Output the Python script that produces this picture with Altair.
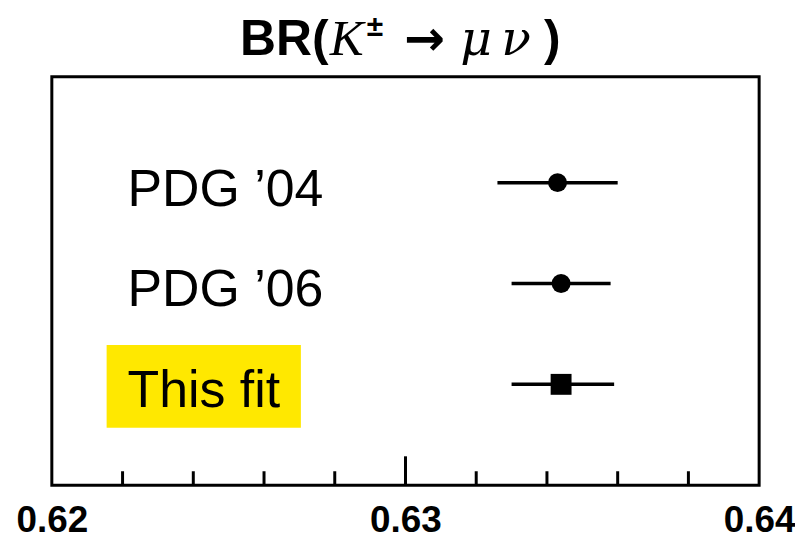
import altair as alt
import pandas as pd

# ---- data ----
labels = ["PDG \u201904", "PDG \u201906", "This fit"]
row_pos = [3, 2, 1]
br_value = [0.6343, 0.6344, 0.6344]
br_low = [0.6326, 0.6330, 0.6330]
br_high = [0.6360, 0.6358, 0.6359]
marker = ["circle", "circle", "square"]
highlight = [False, False, True]

minor_ticks = [0.622, 0.624, 0.626, 0.628, 0.632, 0.634, 0.636, 0.638]
major_ticks = [0.63]
tick_labels = [0.62, 0.63, 0.64]

df = pd.DataFrame({
    "label": labels, "pos": row_pos, "value": br_value,
    "lo": br_low, "hi": br_high, "marker": marker, "hl": highlight,
})

W, H = 710, 410
xscale = alt.Scale(domain=[0.62, 0.64], nice=False, zero=False)
yscale = alt.Scale(domain=[0, 4.05], nice=False, zero=False)

base = alt.Chart(df)

xaxis = alt.Axis(values=tick_labels, format=".2f", ticks=False, domain=False,
                 grid=False, title=None, labelFontSize=37, labelFontWeight="bold",
                 labelFont="Liberation Sans", labelColor="black", labelPadding=46,
                 labelBaseline="alphabetic", labelFlush=False)

band = base.transform_filter("datum.hl").transform_calculate(
    y1="datum.pos - 0.43", y2="datum.pos + 0.39"
).mark_rect(color="#FFE800").encode(
    x=alt.value(55), x2=alt.value(250),
    y=alt.Y("y1:Q", scale=yscale, axis=None), y2="y2:Q",
)

bars = base.mark_rule(color="black", strokeWidth=3.5).encode(
    x=alt.X("lo:Q", scale=xscale, axis=xaxis), x2="hi:Q",
    y=alt.Y("pos:Q", scale=yscale, axis=None),
)

circles = base.transform_filter("datum.marker == 'circle'").mark_point(
    shape="circle", filled=True, color="black", size=360, opacity=1
).encode(x=alt.X("value:Q", scale=xscale), y=alt.Y("pos:Q", scale=yscale))

squares = base.transform_filter("datum.marker == 'square'").mark_point(
    shape="square", filled=True, color="black", size=440, opacity=1
).encode(x=alt.X("value:Q", scale=xscale), y=alt.Y("pos:Q", scale=yscale))

names = base.mark_text(align="left", baseline="alphabetic", dy=23, fontSize=52,
                       font="Liberation Sans", color="black").encode(
    x=alt.value(76), y=alt.Y("pos:Q", scale=yscale), text="label:N",
)

minor = alt.Chart(pd.DataFrame({"t": minor_ticks})).mark_rule(
    color="black", strokeWidth=3).encode(
    x=alt.X("t:Q", scale=xscale), y=alt.value(H), y2=alt.value(H - 14))
major = alt.Chart(pd.DataFrame({"t": major_ticks})).mark_rule(
    color="black", strokeWidth=3).encode(
    x=alt.X("t:Q", scale=xscale), y=alt.value(H), y2=alt.value(H - 29))

def piece(txt, x, y, size, font, weight="normal", style="normal", baseline="alphabetic", align="left"):
    return alt.Chart(pd.DataFrame({"t": [txt]})).mark_text(
        align=align, baseline=baseline, fontSize=size, font=font,
        fontWeight=weight, fontStyle=style, color="black",
    ).encode(text="t:N", x=alt.value(x), y=alt.value(y))

title_layers = [
    piece("BR(", 189, -22, 50, "Liberation Sans", weight="bold"),
    piece("K", 279, -22, 51, "Liberation Serif", style="italic"),
    piece("\u00b1", 316, -41, 30, "Liberation Sans", weight="bold"),
    piece("\u2192", 374, -22, 49, "DejaVu Sans", weight="bold", align="center"),
    piece("\u03bc", 426, -22, 49, "DejaVu Serif", style="italic", align="center"),
    piece("\u03bd", 466, -22, 49, "DejaVu Serif", style="italic", align="center"),
    piece(")", 494, -22, 50, "Liberation Sans", weight="bold"),
]

chart = alt.layer(band, bars, circles, squares, names, minor, major, *title_layers).properties(
    width=W, height=H,
    background="white",
    autosize=alt.AutoSizeParams(type="none"),
    padding={"left": 44, "top": 68, "right": 36, "bottom": 54},
).configure_view(stroke="black", strokeWidth=3)

chart.save("out.html", embed_options={"renderer": "svg", "actions": False})
